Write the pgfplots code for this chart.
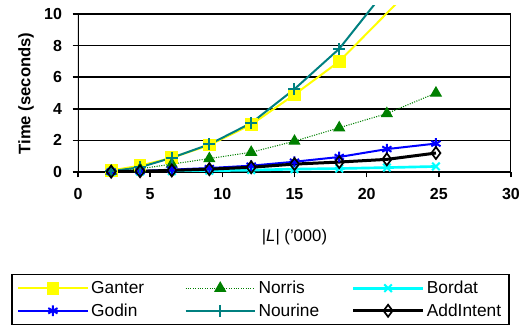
\documentclass[border=0pt]{standalone}
\usepackage{fontspec}
\setmainfont{Liberation Sans}
\usepackage{pgfplots}
\pgfplotsset{compat=1.18}
\definecolor{ganter}{RGB}{255,255,0}
\definecolor{norris}{RGB}{0,128,0}
\definecolor{bordat}{RGB}{0,255,255}
\definecolor{godin}{RGB}{0,0,255}
\definecolor{nourine}{RGB}{0,128,128}
\begin{document}
\begin{tikzpicture}
\useasboundingbox (0,0) rectangle (391.5pt,249pt);
\begin{axis}[
  at={(58.5pt,120pt)}, anchor=south west,
  scale only axis, width=324.75pt, height=125pt,
  xmin=0, xmax=30, ymin=0, ymax=10.55,
  xtick={0,5,...,30}, ytick={0,2,...,10},
  axis x line=bottom, axis y line=left,
  axis line style={-, line width=1.5pt, black},
  y axis line style={draw=none},
  tick align=outside, major tick length=4pt,
  tick style={line width=1.2pt, black},
  ymajorgrids, grid style={black, line width=1.1pt},
  /pgf/number format/assume math mode=true,
  ticklabel style={font=\bfseries\fontsize{12}{14}\selectfont},
  xticklabel style={yshift=-5pt},
  yticklabel style={xshift=-4.5pt},
  xlabel={|\textit{L}| ('000)},
  ylabel={\bfseries Time (seconds)},
  xlabel style={font=\fontsize{12.5}{14}\selectfont, at={(axis description cs:0.5,0)}, anchor=center, yshift=-49pt},
  ylabel style={font=\fontsize{12.5}{14}\selectfont, at={(axis description cs:-0.12,0.471)}, anchor=center},
  legend columns=3,
  legend style={at={(axis description cs:0.4215,-0.765)}, anchor=center,
    draw=black, line width=1.1pt, font=\fontsize{13}{15}\selectfont,
    inner xsep=4pt, inner ysep=3pt,
    /tikz/every even column/.append style={column sep=2pt},
    row sep=2pt},
  legend cell align=left,
  legend image code/.code={\draw[mark repeat=2,mark phase=2] plot coordinates {(0pt,0pt) (26pt,0pt) (52pt,0pt)};},
]
\addplot[ganter, line width=1.5pt, mark=square*, mark size=4pt, mark options={solid, fill=ganter, draw=ganter}]
  coordinates {(2.3,0.1) (4.3,0.4) (6.5,0.9) (9.1,1.7) (12.0,3.0) (15.0,4.9) (18.1,7.0) (24.8,13.2)};
\addlegendentry{\makebox[66pt][l]{Ganter}}
\addplot[norris, line width=0.8pt, densely dotted, mark=triangle*, mark size=4.5pt, mark options={solid, fill=norris, draw=norris}]
  coordinates {(2.3,0.05) (4.3,0.2) (6.5,0.5) (9.1,0.85) (12.0,1.25) (15.0,1.95) (18.1,2.8) (21.4,3.7) (24.8,5.0)};
\addlegendentry{\makebox[66pt][l]{Norris}}
\addplot[bordat, line width=2pt, mark=x, mark size=4pt, mark options={solid, line width=1.5pt}]
  coordinates {(2.3,0.01) (4.3,0.03) (6.5,0.05) (9.1,0.08) (12.0,0.12) (15.0,0.18) (18.1,0.22) (21.4,0.28) (24.8,0.35)};
\addlegendentry{Bordat}
\addplot[godin, line width=1.5pt, mark=asterisk, mark size=4pt, mark options={solid, line width=1.5pt}]
  coordinates {(2.3,0.02) (4.3,0.06) (6.5,0.15) (9.1,0.25) (12.0,0.4) (15.0,0.65) (18.1,0.95) (21.4,1.45) (24.8,1.8)};
\addlegendentry{\makebox[66pt][l]{Godin}}
\addplot[nourine, line width=1.5pt, mark=+, mark size=4.5pt, mark options={solid, line width=1.5pt}]
  coordinates {(2.3,0.05) (4.3,0.3) (6.5,0.9) (9.1,1.75) (12.0,3.1) (15.0,5.25) (18.1,7.8) (21.4,11.6) (24.8,15.5)};
\addlegendentry{\makebox[66pt][l]{Nourine}}
\addplot[black, line width=2.25pt, mark=diamond, mark size=4.5pt, mark options={solid, line width=1.3pt}]
  coordinates {(2.3,0.02) (4.3,0.05) (6.5,0.1) (9.1,0.18) (12.0,0.3) (15.0,0.5) (18.1,0.63) (21.4,0.8) (24.8,1.2)};
\addlegendentry{AddIntent}
\draw[line width=1.5pt, black] (axis cs:0,0) -- (axis cs:0,10);
\draw[line width=1.1pt, black] (axis cs:30,0) -- (axis cs:30,10);
\end{axis}
\end{tikzpicture}
\end{document}
